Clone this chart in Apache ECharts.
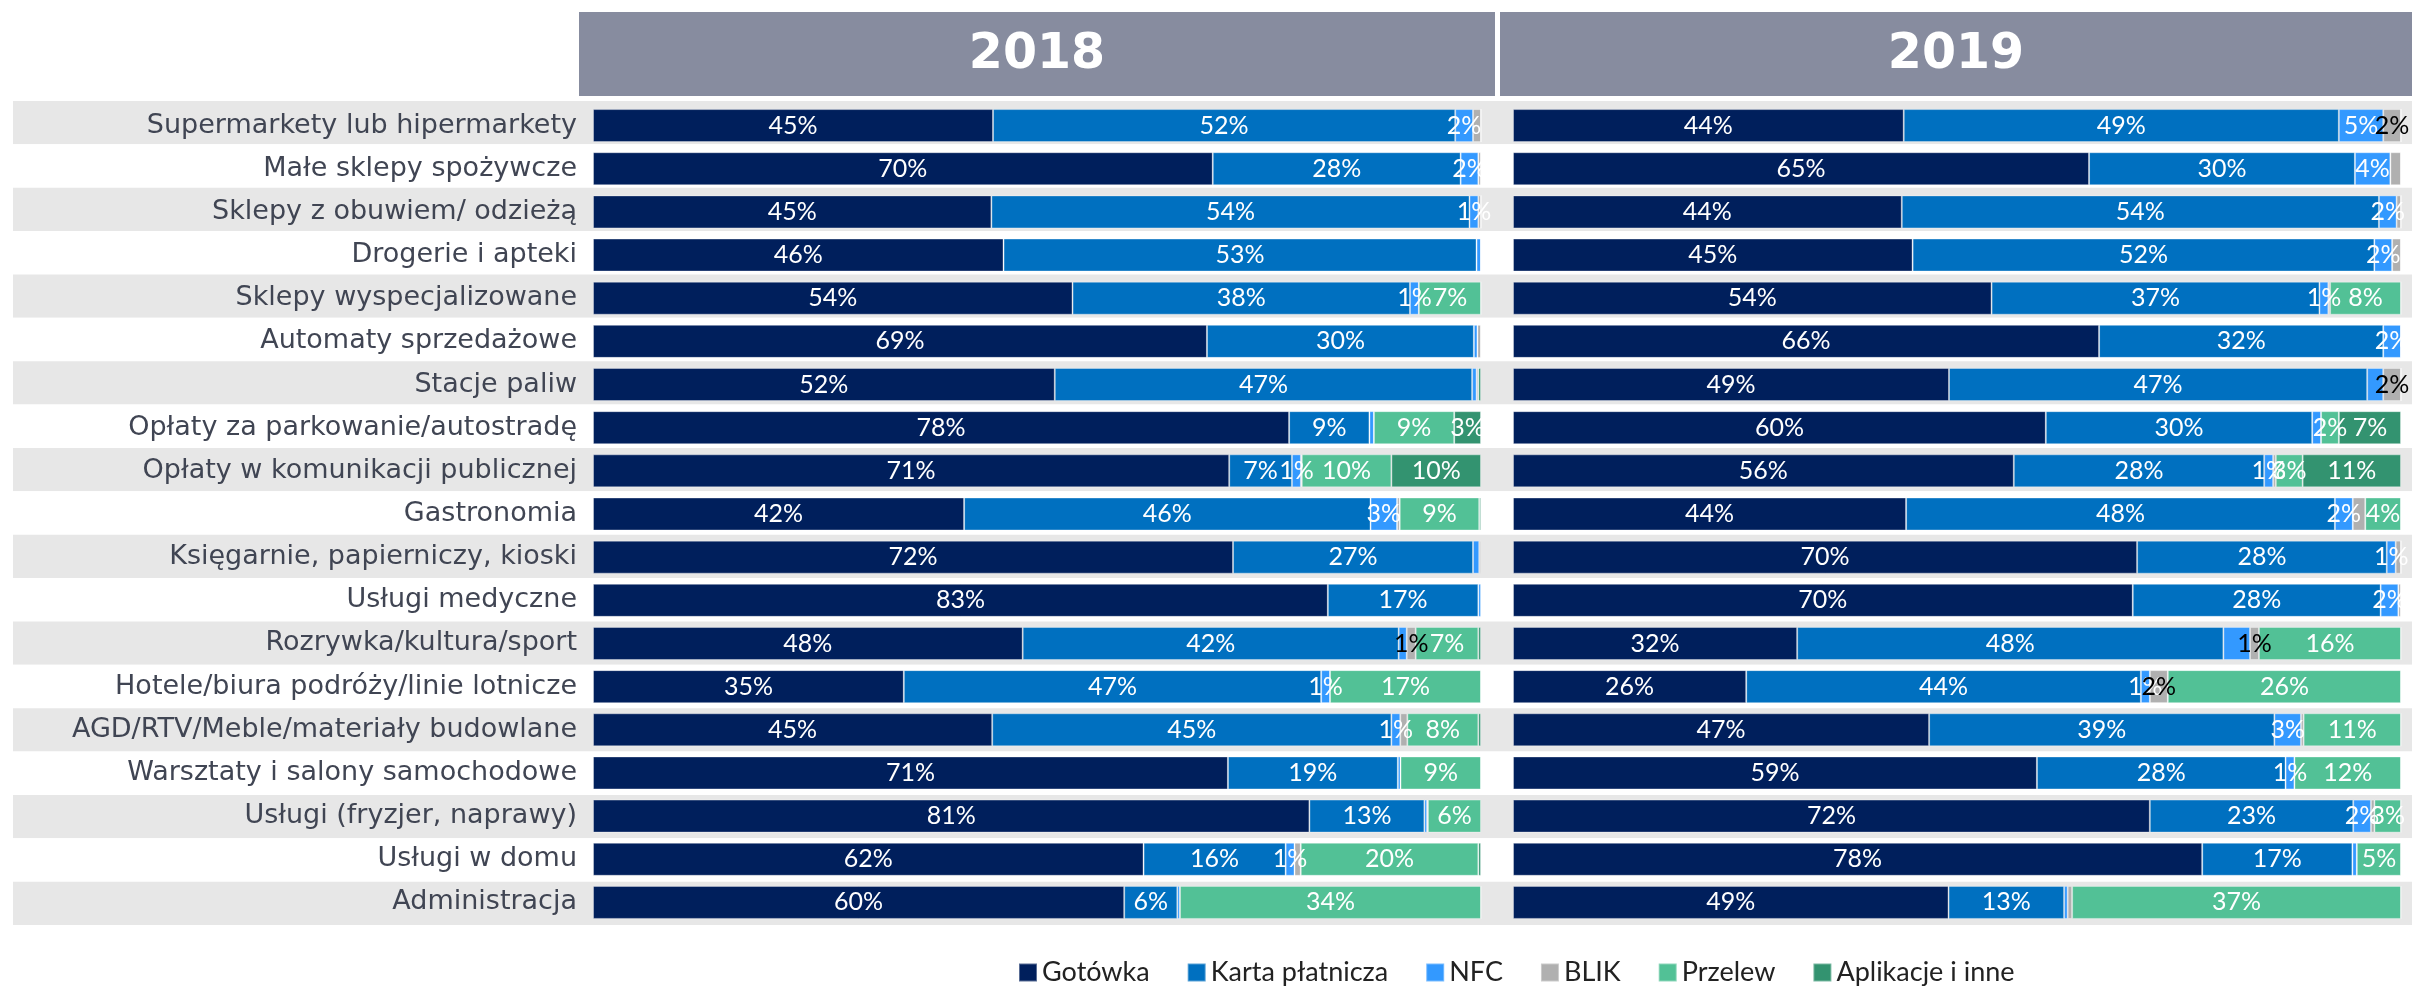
<!DOCTYPE html>
<html>
<head>
<meta charset="utf-8">
<script src="https://cdn.jsdelivr.net/npm/echarts@6/dist/echarts.min.js"></script>
<style>
html,body{margin:0;padding:0;background:#fff;}
#chart{width:2412px;height:994px;}
</style>
</head>
<body>
<div id="chart"></div>
<script>
const categories = [
  'Supermarkety lub hipermarkety','Małe sklepy spożywcze','Sklepy z obuwiem/ odzieżą','Drogerie i apteki',
  'Sklepy wyspecjalizowane','Automaty sprzedażowe','Stacje paliw','Opłaty za parkowanie/autostradę',
  'Opłaty w komunikacji publicznej','Gastronomia','Księgarnie, papierniczy, kioski','Usługi medyczne',
  'Rozrywka/kultura/sport','Hotele/biura podróży/linie lotnicze','AGD/RTV/Meble/materiały budowlane',
  'Warsztaty i salony samochodowe','Usługi (fryzjer, naprawy)','Usługi w domu','Administracja'
];
const seriesNames = ['Gotówka','Karta płatnicza','NFC','BLIK','Przelew','Aplikacje i inne'];
const years = ['2018','2019'];

// 2018
const gotowka2018 = [45,70,45,46,54,69,52,78,71,42,72,83,48,35,45,71,81,62,60];
const karta2018   = [52,28,54,53,38,30,47,9,7,46,27,17,42,47,45,19,13,16,6];
const nfc2018     = [2,2,1,0.5,1,0.4,0.5,0.5,1,3,0.7,0.3,0.9,1,1,0.3,0.3,1,0.3];
const blik2018    = [0.9,0.3,0.3,0,0,0.4,0.2,0,0.1,0.3,0.2,0,1,0,0.8,0,0.1,0.7,0];
const przelew2018 = [0,0,0,0,7,0,0,9,10,9,0,0,7,17,8,9,6,20,34];
const apps2018    = [0,0,0,0,0,0,0.3,3,10,0.2,0,0,0.3,0,0.3,0,0,0.3,0];
const hidden2018  = [];

// 2019
const gotowka2019 = [44,65,44,45,54,66,49,60,56,44,70,70,32,26,47,59,72,78,49];
const karta2019   = [49,30,54,52,37,32,47,30,28,48,28,28,48,44,39,28,23,17,13];
const nfc2019     = [5,4,2,2,1,2,1.8,1,1,2,1,2,3,1,3,1,2,0.5,0.4];
const blik2019    = [2,1.2,0.5,1,0.2,0,2,0,0.3,1.4,0.6,0.3,1,2,0.3,0,0.4,0,0.5];
const przelew2019 = [0,0,0,0,8,0,0,2,3,4,0,0,16,26,11,12,3,5,37];
const apps2019    = [0,0,0,0,0,0,0,7,11,0,0,0,0,0,0,0,0,0,0];
const hidden2019  = ['BLIK:1','BLIK:3','NFC:6','NFC:7','BLIK:9','NFC:12'];

const colors = ['#001f5c','#0070c0','#3399ff','#b0b0b0','#52c196','#339370'];
const labelColors = ['#ffffff','#ffffff','#ffffff','#000000','#ffffff','#ffffff'];

const yearData = [
  {year:'2018', sets:[gotowka2018,karta2018,nfc2018,blik2018,przelew2018,apps2018], hidden:hidden2018},
  {year:'2019', sets:[gotowka2019,karta2019,nfc2019,blik2019,przelew2019,apps2019], hidden:hidden2019}
];

const series = [];
yearData.forEach((yd, yi) => {
  const sums = categories.map((c, r) => yd.sets.reduce((a, s) => a + s[r], 0));
  yd.sets.forEach((arr, si) => {
    series.push({
      type: 'bar',
      name: seriesNames[si],
      xAxisIndex: yi + 1,
      yAxisIndex: yi + 1,
      stack: 'y' + yd.year,
      barWidth: 33,
      itemStyle: {color: colors[si], borderColor: 'rgba(255,255,255,0.35)', borderWidth: 1},
      label: {
        show: true,
        position: 'inside',
        color: labelColors[si],
        fontFamily: 'Lato',
        fontSize: 25,
        formatter: p => p.data.showLabel ? Math.round(p.data.raw) + '%' : ''
      },
      data: arr.map((v, r) => ({
        value: v / sums[r] * 100,
        raw: v,
        showLabel: v >= 1 && yd.hidden.indexOf(seriesNames[si] + ':' + r) < 0
      }))
    });
  });
});

const hiddenAxis = {axisLine:{show:false}, axisTick:{show:false}, splitLine:{show:false}};

const option = {
  animation: false,
  backgroundColor: '#ffffff',
  grid: [
    {left: 13, right: 0, top: 101, height: 824},
    {left: 593, width: 888, top: 104, height: 820},
    {left: 1513, width: 888, top: 104, height: 820}
  ],
  xAxis: [0,1,2].map(i => ({gridIndex: i, type: 'value', min: 0, max: 100, show: false})),
  yAxis: [
    Object.assign({gridIndex: 0, type: 'category', data: categories, inverse: true,
      axisLabel: {show: false},
      splitArea: {show: true, areaStyle: {color: ['#e7e7e7', '#ffffff']}}}, hiddenAxis),
    Object.assign({gridIndex: 1, type: 'category', data: categories, inverse: true,
      axisLabel: {fontFamily: 'DejaVu Sans', fontSize: 27, color: '#404553', margin: 16}}, hiddenAxis),
    Object.assign({gridIndex: 2, type: 'category', data: categories, inverse: true,
      axisLabel: {show: false}}, hiddenAxis)
  ],
  legend: {
    data: seriesNames,
    left: 1018,
    top: 959,
    padding: 0,
    icon: 'rect',
    itemWidth: 18,
    itemHeight: 18,
    itemGap: 37,
    textStyle: {fontFamily: 'Lato', fontSize: 27, color: '#222222'}
  },
  graphic: [
    {type: 'rect', shape: {x: 579, y: 12, width: 916, height: 84}, style: {fill: '#878c9f'}},
    {type: 'rect', shape: {x: 1500, y: 12, width: 912, height: 84}, style: {fill: '#878c9f'}},
    {type: 'text', x: 1037, y: 55, style: {text: years[0], fill: '#ffffff', font: 'bold 49px "DejaVu Sans"', textAlign: 'center', textVerticalAlign: 'middle'}},
    {type: 'text', x: 1956, y: 55, style: {text: years[1], fill: '#ffffff', font: 'bold 49px "DejaVu Sans"', textAlign: 'center', textVerticalAlign: 'middle'}}
  ],
  series: series
};

const chart = echarts.init(document.getElementById('chart'), null, {renderer: 'canvas'});
chart.setOption(option);
</script>
</body>
</html>
